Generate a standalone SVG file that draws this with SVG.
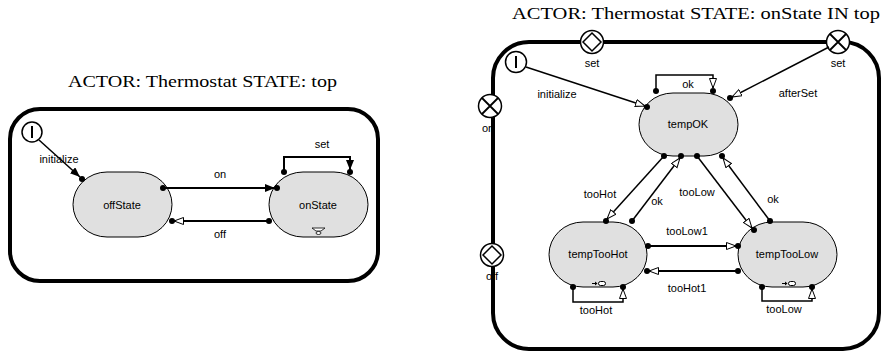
<svg xmlns="http://www.w3.org/2000/svg" width="882" height="354" viewBox="0 0 882 354">
<style>
.title{font-family:"Liberation Serif","Times New Roman",serif;font-size:16px;fill:#000}
.lbl{font-family:"Liberation Sans",Arial,sans-serif;font-size:11px;fill:#000;text-anchor:middle}
.border{fill:none;stroke:#000;stroke-width:4}
.state{fill:#e0e0e0;stroke:#000;stroke-width:1}
.init{fill:#fff;stroke:#000;stroke-width:1.5}
.port{fill:#fff;stroke:#000;stroke-width:1.5}
.c1{fill:none;stroke:#000;stroke-width:2}
.c2{fill:none;stroke:#000;stroke-width:1.5}
.dot{fill:#000}
</style>
<defs>
<marker id="af" markerUnits="userSpaceOnUse" markerWidth="12" markerHeight="10" refX="10" refY="4" orient="auto">
<path d="M0,0 L10,4 L0,8 z" fill="#000"/>
</marker>
<marker id="ah" markerUnits="userSpaceOnUse" markerWidth="12" markerHeight="10" refX="10" refY="4" orient="auto">
<path d="M0.5,0.5 L10,4 L0.5,7.5 z" fill="#fff" stroke="#000" stroke-width="1"/>
</marker>
</defs>

<!-- Left diagram -->
<text class="title" x="68" y="87" textLength="269" lengthAdjust="spacingAndGlyphs">ACTOR: Thermostat STATE: top</text>
<g id="top-left">
<rect class="border" x="10" y="109" width="368" height="172" rx="30" ry="30"/>
</g>
<g id="init-left">
<circle class="init" cx="32" cy="132" r="10"/>
<line x1="32" y1="126" x2="32" y2="138" stroke="#000" stroke-width="2"/>
</g>
<g id="offState">
<rect class="state" x="73" y="172" width="99" height="65" rx="34" ry="32.5"/>
<text class="lbl" x="122" y="209">offState</text>
</g>
<g id="onState">
<rect class="state" x="269" y="172" width="99" height="65" rx="34" ry="32.5"/>
<text class="lbl" x="318" y="209">onState</text>
<path d="M312,228 h13 l-4,3 h-5 z" fill="#fff" stroke="#000" stroke-width="0.8"/>
<ellipse cx="318.5" cy="233" rx="2.5" ry="1.5" fill="#fff" stroke="#000" stroke-width="0.8"/>
</g>

<!-- Right diagram -->
<text class="title" x="512" y="19" textLength="368" lengthAdjust="spacingAndGlyphs">ACTOR: Thermostat STATE: onState IN top</text>
<g id="onState-in-top">
<rect class="border" x="493" y="42" width="386" height="307" rx="36" ry="36"/>
</g>
<g id="port-set-end">
<circle class="port" cx="592" cy="42" r="11.5"/>
<polygon points="592,33 601,42 592,51 583,42" fill="none" stroke="#000" stroke-width="1.5"/>
<text class="lbl" x="592" y="67">set</text>
</g>
<g id="port-set-relay">
<circle class="port" cx="838" cy="42" r="11.5"/>
<path d="M830,34 L846,50 M846,34 L830,50" stroke="#000" stroke-width="1.8"/>
<text class="lbl" x="838" y="67">set</text>
</g>
<g id="port-on">
<circle class="port" cx="490" cy="106" r="11.5"/>
<path d="M482,98 L498,114 M498,98 L482,114" stroke="#000" stroke-width="1.8"/>
<text class="lbl" x="488" y="132">on</text>
</g>
<g id="port-off">
<circle class="port" cx="492" cy="255" r="11.5"/>
<polygon points="492,246 501,255 492,264 483,255" fill="none" stroke="#000" stroke-width="1.5"/>
<text class="lbl" x="492" y="280">off</text>
</g>
<g id="init-right">
<circle class="init" cx="516" cy="62" r="10.5"/>
<line x1="516" y1="56" x2="516" y2="68" stroke="#000" stroke-width="2"/>
</g>
<g id="tempOK">
<rect class="state" x="639" y="93" width="99" height="63" rx="34" ry="31.5"/>
<text class="lbl" x="688" y="128">tempOK</text>
</g>
<g id="tempTooHot">
<rect class="state" x="549" y="222" width="98" height="65" rx="34" ry="32.5"/>
<text class="lbl" x="598" y="258">tempTooHot</text>
<path d="M592,283.5 h5" stroke="#000" stroke-width="1"/>
<path d="M595,281.5 l2.5,2 l-2.5,2 z" fill="#000"/>
<rect x="598.5" y="281.5" width="7" height="4" rx="2" fill="#fff" stroke="#000" stroke-width="1"/>
</g>
<g id="tempTooLow">
<rect class="state" x="738" y="222" width="99" height="65" rx="34" ry="32.5"/>
<text class="lbl" x="787" y="258">tempTooLow</text>
<path d="M782,283.5 h5" stroke="#000" stroke-width="1"/>
<path d="M785,281.5 l2.5,2 l-2.5,2 z" fill="#000"/>
<rect x="788.5" y="281.5" width="7" height="4" rx="2" fill="#fff" stroke="#000" stroke-width="1"/>
</g>

<g id="connectors">
<!-- left -->
<path class="c2" d="M39,140 L80,177" marker-end="url(#af)"/>
<circle class="dot" cx="82" cy="179" r="3"/>
<text class="lbl" x="59" y="163">initialize</text>

<path class="c1" d="M163,188 L275,188" marker-end="url(#af)"/>
<circle class="dot" cx="163" cy="188" r="3"/>
<circle class="dot" cx="277" cy="188" r="3"/>
<text class="lbl" x="220" y="178">on</text>

<path class="c1" d="M269,221 L174,221" marker-end="url(#ah)"/>
<circle class="dot" cx="269" cy="221" r="3"/>
<circle class="dot" cx="172" cy="221" r="3"/>
<text class="lbl" x="220" y="238">off</text>

<path class="c1" d="M284,172 V157 H350 V170" marker-end="url(#af)"/>
<circle class="dot" cx="284" cy="172" r="3"/>
<circle class="dot" cx="350" cy="172" r="3"/>
<text class="lbl" x="322" y="148">set</text>

<!-- right -->
<path class="c2" d="M526,67 L645,106" marker-end="url(#ah)"/>
<circle class="dot" cx="647" cy="107" r="3"/>
<text class="lbl" x="557" y="98">initialize</text>

<path class="c2" d="M829,47 L732,97" marker-end="url(#ah)"/>
<circle class="dot" cx="730" cy="98" r="3"/>
<text class="lbl" x="798" y="97">afterSet</text>

<path class="c2" d="M656,91 V75 H713 V88" marker-end="url(#ah)"/>
<circle class="dot" cx="656" cy="91" r="3"/>
<circle class="dot" cx="713" cy="91" r="3"/>
<text class="lbl" x="688" y="88">ok</text>

<path class="c2" d="M664,156 L607,219" marker-end="url(#ah)"/>
<circle class="dot" cx="664" cy="156" r="3"/>
<circle class="dot" cx="606" cy="221" r="3"/>
<text class="lbl" x="600" y="198">tooHot</text>

<path class="c2" d="M632,221 L680,158" marker-end="url(#ah)"/>
<circle class="dot" cx="632" cy="221" r="3"/>
<circle class="dot" cx="681" cy="156" r="3"/>
<text class="lbl" x="657" y="205">ok</text>

<path class="c2" d="M697,156 L752,228" marker-end="url(#ah)"/>
<circle class="dot" cx="697" cy="156" r="3"/>
<circle class="dot" cx="754" cy="230" r="3"/>
<text class="lbl" x="697" y="196">tooLow</text>

<path class="c2" d="M770,221 L723,158" marker-end="url(#ah)"/>
<circle class="dot" cx="770" cy="221" r="3"/>
<circle class="dot" cx="722" cy="156" r="3"/>
<text class="lbl" x="773" y="203">ok</text>

<path class="c1" d="M648,246 L736,246" marker-end="url(#ah)"/>
<circle class="dot" cx="648" cy="246" r="3"/>
<circle class="dot" cx="738" cy="246" r="3"/>
<text class="lbl" x="687" y="235">tooLow1</text>

<path class="c1" d="M738,271 L649,271" marker-end="url(#ah)"/>
<circle class="dot" cx="738" cy="271" r="3"/>
<circle class="dot" cx="647" cy="271" r="3"/>
<text class="lbl" x="687" y="292">tooHot1</text>

<path class="c2" d="M573,287 V302 H623 V289" marker-end="url(#ah)"/>
<circle class="dot" cx="573" cy="287" r="3"/>
<circle class="dot" cx="623" cy="287" r="3"/>
<text class="lbl" x="596" y="314">tooHot</text>

<path class="c2" d="M762,287 V301 H812 V289" marker-end="url(#ah)"/>
<circle class="dot" cx="762" cy="287" r="3"/>
<circle class="dot" cx="812" cy="287" r="3"/>
<text class="lbl" x="784" y="313">tooLow</text>
</g>
</svg>
